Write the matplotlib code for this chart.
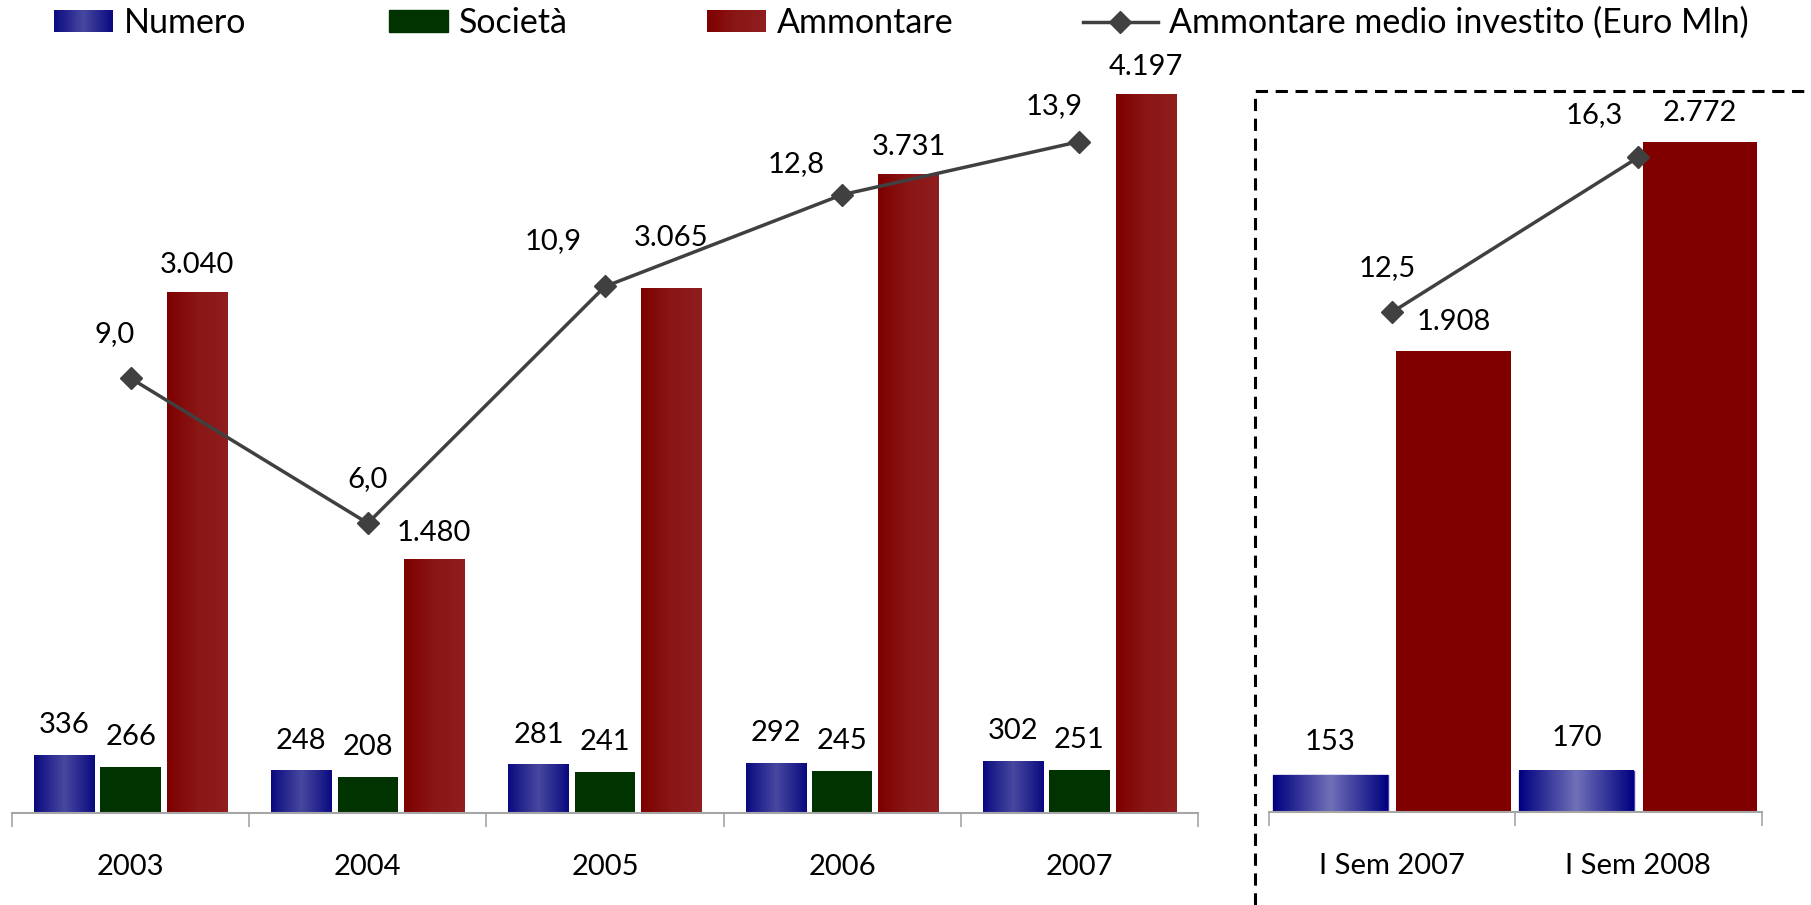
#!/usr/bin/env python3
"""
Ammontare investito - bars + average line, yearly and semester panels
"""

import numpy as np
import matplotlib
matplotlib.use("Agg")
import matplotlib.pyplot as plt
from matplotlib.colors import LinearSegmentedColormap
from matplotlib.legend_handler import HandlerBase
from matplotlib.patches import Rectangle, Patch
from matplotlib.lines import Line2D


# =========================================================
# DATA
# =========================================================
years = ["2003", "2004", "2005", "2006", "2007"]
numero = [336, 248, 281, 292, 302]
societa = [266, 208, 241, 245, 251]
ammontare = [3040, 1480, 3065, 3731, 4197]
medio = [9.0, 6.0, 10.9, 12.8, 13.9]

semestri = ["I Sem 2007", "I Sem 2008"]
sem_numero = [153, 170]
sem_ammontare = [1908, 2772]
sem_medio = [12.5, 16.3]


# =========================================================
# STYLE
# =========================================================
plt.rcParams["font.family"] = ["Lato", "DejaVu Sans"]
W, H = 1811, 905
FS = 21
FS_LEG = 24.5
LINE_COL = "#404040"
GREY = "#A6A6A6"

NUM_LEFT = ["#0A0A80", "#4848A0", "#0A0A80"]
NUM_RIGHT = ["#000080", "#7070B8", "#000080"]
AMM_LEFT = ["#7E0000", "#8A1616", "#901E1E"]
SOC_COL = "#003300"
AMM_RIGHT = "#800000"

# label offsets (pixels)
AMM_DY = [27, 27, 50, 27, 27]
MED_OFF = [(-16, 44), (0, 44), (-52, 45), (-46, 31), (-25, 36)]
SEM_MED_OFF = [(-5, 44), (-44, 42)]


def it_int(v):
    return f"{v:,}".replace(",", ".")


def it_dec(v):
    return f"{v:.1f}".replace(".", ",")


def gradient_bars(ax, bars, colors):
    cmap = LinearSegmentedColormap.from_list("g", colors)
    grad = np.linspace(0, 1, 256)[np.newaxis, :]
    for b in bars:
        x0 = b.get_x()
        ax.imshow(grad, extent=(x0, x0 + b.get_width(), 0, b.get_height()),
                  aspect="auto", cmap=cmap, interpolation="bilinear",
                  zorder=b.get_zorder() + 0.1)


class GradientHandler(HandlerBase):
    def __init__(self, colors):
        super().__init__()
        self.cmap = LinearSegmentedColormap.from_list("g", colors)

    def create_artists(self, legend, orig_handle, xdescent, ydescent,
                       width, height, fontsize, trans):
        n = 40
        arts = []
        for i in range(n):
            arts.append(Rectangle((-xdescent + width * i / n, -ydescent),
                                  width / n * 1.1, height,
                                  facecolor=self.cmap((i + 0.5) / n),
                                  edgecolor="none", transform=trans))
        return arts


def style_axis(ax, n):
    for s in ["top", "right", "left"]:
        ax.spines[s].set_visible(False)
    ax.spines["bottom"].set_color(GREY)
    ax.spines["bottom"].set_linewidth(1.5)
    ax.set_yticks([])
    ax.set_xlim(-0.5, n - 0.5)
    ax.set_xticks(range(n))
    ax.set_xticks(np.arange(-0.5, n, 1.0), minor=True)
    ax.tick_params(axis="x", which="major", length=0, pad=29.5, labelsize=FS)
    ax.tick_params(axis="x", which="minor", length=10, width=1.2,
                   color=GREY, direction="out")


def clean_twin(ax2):
    for s in ax2.spines.values():
        s.set_visible(False)
    ax2.set_yticks([])


# =========================================================
# FIGURE
# =========================================================
fig = plt.figure(figsize=(W / 100, H / 100), dpi=100)

# ---- left panel (years) ----
ax = fig.add_axes([12 / W, (H - 813) / H, 1186 / W, 783 / H])
x = np.arange(len(years))
bw = 0.255
b_num = ax.bar(x - 0.28, numero, bw, color=NUM_LEFT[0], zorder=2)
b_soc = ax.bar(x, societa, bw, color=SOC_COL, zorder=2)
b_amm = ax.bar(x + 0.28, ammontare, bw, color=AMM_LEFT[0], zorder=2)
gradient_bars(ax, b_num, NUM_LEFT)
gradient_bars(ax, b_amm, AMM_LEFT)
style_axis(ax, len(years))
ax.set_xticklabels(years)
ax.set_ylim(0, 4573)

for bars, vals, dys in [(b_num, numero, [30] * 5), (b_soc, societa, [30] * 5),
                        (b_amm, ammontare, AMM_DY)]:
    for b, v, dy in zip(bars, vals, dys):
        ax.annotate(it_int(v), (b.get_x() + b.get_width() / 2, v),
                    xytext=(0, dy), textcoords="offset pixels",
                    ha="center", va="center", fontsize=FS)

ax2 = ax.twinx()
ax2.plot(x, medio, color=LINE_COL, lw=2.5, marker="D", ms=11, zorder=5)
ax2.set_ylim(0, 16.21)
clean_twin(ax2)
for xi, v, off in zip(x, medio, MED_OFF):
    ax2.annotate(it_dec(v), (xi, v), xytext=off, textcoords="offset pixels",
                 ha="center", va="center", fontsize=FS)

# ---- right panel (semesters) ----
axr = fig.add_axes([1268.6 / W, (H - 812) / H, 493 / W, 782 / H])
xs = np.arange(len(semestri))
bws = 0.465
r_num = axr.bar(xs - 0.25, sem_numero, bws, color=NUM_RIGHT[0],
                edgecolor="#4040A0", linewidth=1, zorder=2)
r_amm = axr.bar(xs + 0.25, sem_ammontare, bws, color=AMM_RIGHT, zorder=2)
gradient_bars(axr, r_num, NUM_RIGHT)
style_axis(axr, len(semestri))
axr.set_xticklabels(semestri)
axr.set_ylim(0, 3237)

for bars, vals, dy in [(r_num, sem_numero, 33), (r_amm, sem_ammontare, 29)]:
    for b, v in zip(bars, vals):
        axr.annotate(it_int(v), (b.get_x() + b.get_width() / 2, v),
                     xytext=(0, dy), textcoords="offset pixels",
                     ha="center", va="center", fontsize=FS)

axr2 = axr.twinx()
axr2.plot(xs, sem_medio, color=LINE_COL, lw=2.5, marker="D", ms=11, zorder=5)
axr2.set_ylim(0.25, 19.42)
clean_twin(axr2)
for xi, v, off in zip(xs, sem_medio, SEM_MED_OFF):
    axr2.annotate(it_dec(v), (xi, v), xytext=off, textcoords="offset pixels",
                  ha="center", va="center", fontsize=FS)

# ---- dashed frame around semester panel ----
fx = 1255 / W
fy = 1 - 91 / H
fig.add_artist(Line2D([fx, fx, 1.0], [0, fy, fy], transform=fig.transFigure,
                      color="black", lw=2.2, ls=(0, (4, 2.5))))

# =========================================================
# LEGEND
# =========================================================
leg_y = 1 - 23 / H
leg_kw = dict(loc="center left", frameon=False, borderpad=0, borderaxespad=0,
              handletextpad=0.32, fontsize=FS_LEG, handleheight=0.64)

h_num = Patch(label="Numero")
h_amm = Patch(label="Ammontare")
fig.legend(handles=[h_num], bbox_to_anchor=(54 / W, leg_y), handlelength=1.72,
           handler_map={h_num: GradientHandler(NUM_LEFT)}, **leg_kw)
fig.legend(handles=[Patch(color=SOC_COL, label="Società")],
           bbox_to_anchor=(389 / W, leg_y), handlelength=1.72, **leg_kw)
fig.legend(handles=[h_amm], bbox_to_anchor=(707 / W, leg_y), handlelength=1.72,
           handler_map={h_amm: GradientHandler(AMM_LEFT)}, **leg_kw)
fig.legend(handles=[Line2D([], [], color=LINE_COL, lw=2.5, marker="D", ms=11,
                           label="Ammontare medio investito (Euro Mln)")],
           bbox_to_anchor=(1083 / W, leg_y), handlelength=2.2, **leg_kw)

fig.savefig("out.png", dpi=100)
